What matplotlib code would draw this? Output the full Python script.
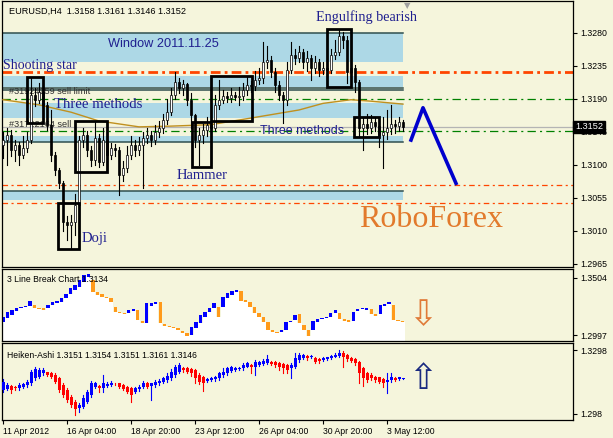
import matplotlib
matplotlib.use("Agg")
import matplotlib.pyplot as plt

plt.rcParams['lines.scale_dashes'] = False
plt.rcParams['font.family'] = ['Liberation Sans', 'DejaVu Sans']

BG = '#f5f5dc'
BAND = '#add8e6'
NAVY = '#1f1f8f'

# ---- main chart: EURUSD H4 candles (open = previous close) ----
first_open = 1.3127
closes = [1.3134, 1.3141, 1.3120, 1.3127, 1.3114, 1.3123, 1.3134, 1.3195, 1.3189, 1.3200,
          1.3182, 1.3155, 1.3114, 1.3093, 1.3075, 1.3022, 1.3018, 1.3022, 1.3045, 1.3134,
          1.3141, 1.3120, 1.3107, 1.3137, 1.3104, 1.3134, 1.3114, 1.3123, 1.3120, 1.3086,
          1.3096, 1.3114, 1.3127, 1.3120, 1.3127, 1.3137, 1.3141, 1.3134, 1.3145, 1.3150,
          1.3161, 1.3172, 1.3195, 1.3213, 1.3205, 1.3210, 1.3189, 1.3168, 1.3134, 1.3141,
          1.3148, 1.3155, 1.3150, 1.3182, 1.3189, 1.3194, 1.3191, 1.3195, 1.3193, 1.3194,
          1.3202, 1.3209, 1.3208, 1.3216, 1.3219, 1.3240, 1.3243, 1.3227, 1.3209, 1.3195,
          1.3189, 1.3230, 1.3250, 1.3246, 1.3254, 1.3240, 1.3246, 1.3232, 1.3240, 1.3230,
          1.3232, 1.3230, 1.3250, 1.3254, 1.3276, 1.3270, 1.3227, 1.3232, 1.3213, 1.3150,
          1.3156, 1.3150, 1.3159, 1.3153, 1.3141, 1.3145, 1.3150, 1.3156, 1.3153, 1.3159,
          1.3152]
highs = [1.3145, 1.3150, 1.3148, 1.3134, 1.3132, 1.3140, 1.3145, 1.3220, 1.3205, 1.3212,
         1.3206, 1.3186, 1.3175, 1.3118, 1.3096, 1.3078, 1.3030, 1.3032, 1.3060, 1.3140,
         1.3150, 1.3146, 1.3126, 1.3160, 1.3142, 1.3150, 1.3140, 1.3130, 1.3128, 1.3125,
         1.3105, 1.3126, 1.3140, 1.3134, 1.3138, 1.3145, 1.3150, 1.3146, 1.3155, 1.3160,
         1.3170, 1.3190, 1.3205, 1.3227, 1.3218, 1.3216, 1.3212, 1.3198, 1.3170, 1.3150,
         1.3156, 1.3165, 1.3162, 1.3195, 1.3216, 1.3202, 1.3200, 1.3205, 1.3200, 1.3206,
         1.3212, 1.3220, 1.3215, 1.3228, 1.3232, 1.3268, 1.3262, 1.3248, 1.3232, 1.3214,
         1.3200, 1.3240, 1.3268, 1.3258, 1.3262, 1.3258, 1.3256, 1.3250, 1.3248, 1.3244,
         1.3240, 1.3238, 1.3258, 1.3270, 1.3284, 1.3282, 1.3276, 1.3240, 1.3236, 1.3216,
         1.3164, 1.3170, 1.3168, 1.3166, 1.3160, 1.3165, 1.3175, 1.3182, 1.3162, 1.3166,
         1.3161]
lows = [1.3110, 1.3100, 1.3112, 1.3105, 1.3100, 1.3109, 1.3118, 1.3130, 1.3180, 1.3184,
        1.3168, 1.3148, 1.3105, 1.3086, 1.3068, 1.3010, 1.2998, 1.2987, 1.3005, 1.3040,
        1.3125, 1.3112, 1.3098, 1.3100, 1.3097, 1.3100, 1.3100, 1.3108, 1.3112, 1.3059,
        1.3078, 1.3090, 1.3108, 1.3112, 1.3114, 1.3069, 1.3130, 1.3126, 1.3128, 1.3138,
        1.3144, 1.3156, 1.3168, 1.3190, 1.3198, 1.3196, 1.3182, 1.3150, 1.3125, 1.3100,
        1.3130, 1.3140, 1.3142, 1.3146, 1.3176, 1.3184, 1.3186, 1.3186, 1.3188, 1.3182,
        1.3188, 1.3196, 1.3200, 1.3202, 1.3210, 1.3212, 1.3232, 1.3220, 1.3200, 1.3188,
        1.3157, 1.3182, 1.3225, 1.3238, 1.3240, 1.3232, 1.3228, 1.3216, 1.3225, 1.3222,
        1.3224, 1.3220, 1.3225, 1.3245, 1.3250, 1.3260, 1.3212, 1.3220, 1.3200, 1.3140,
        1.3120, 1.3142, 1.3144, 1.3146, 1.3125, 1.3096, 1.3135, 1.3142, 1.3144, 1.3146,
        1.3146]

# moving average, read at a few bars
ma_bars = [0, 9, 17, 24, 34, 42, 52, 62, 74, 80, 87, 92, 100]
ma_vals = [1.3189, 1.3182, 1.3172, 1.3160, 1.3152, 1.3153, 1.3155, 1.3164, 1.3175, 1.3184,
           1.3189, 1.3187, 1.3183]

# light blue zones (low, high) and dark level lines, drawn up to band_end
bands = [(1.3240, 1.3280), (1.3206, 1.3221), (1.3164, 1.3184), (1.3131, 1.3139), (1.3052, 1.3064)]
dark_levels = [1.3280, 1.3205, 1.3202, 1.3131, 1.3064]
band_end = 100

# full-width levels
red_level = 1.3227
green_levels = [1.3190, 1.3146]
orange_levels = [1.3073, 1.3048]
price_now = 1.3152

# pattern boxes: (bar from, bar to, price low, price high)
boxes = [(6.0, 10.0, 1.3157, 1.3220), (18.0, 26.0, 1.3090, 1.3160), (13.75, 19.0, 1.2985, 1.3048),
         (47.25, 52.0, 1.3097, 1.3159), (52.0, 62.25, 1.3160, 1.3221), (81.0, 87.0, 1.3206, 1.3285),
         (87.75, 94.0, 1.3138, 1.3165)]

# forecast zigzag
zig_bars = [102, 105, 113.25]
zig_vals = [1.3134, 1.3178, 1.3075]

main_ticks = [1.3280, 1.3235, 1.3190, 1.3145, 1.3100, 1.3055, 1.3010, 1.2965]

# ---- 3 Line Break bricks ----
lb_hi = [1.3160, 1.3199, 1.3219, 1.3240, 1.3249, 1.3258, 1.3299, 1.3264, 1.3240, 1.3234,
         1.3264, 1.3288, 1.3299, 1.3329, 1.3362, 1.3412, 1.3442, 1.3486, 1.3531, 1.3540,
         1.3486, 1.3382, 1.3359, 1.3338, 1.3323, 1.3249, 1.3199, 1.3196, 1.3219, 1.3228,
         1.3219, 1.3122, 1.3279, 1.3279, 1.3294, 1.3288, 1.3092, 1.3080, 1.3071, 1.3056,
         1.3036, 1.3012, 1.3071, 1.3110, 1.3175, 1.3205, 1.3240, 1.3279, 1.3249, 1.3338,
         1.3368, 1.3388, 1.3397, 1.3388, 1.3308, 1.3294, 1.3249, 1.3196, 1.3160, 1.3116,
         1.3042, 1.3027, 1.3042, 1.3110, 1.3122, 1.3175, 1.3181, 1.3086, 1.3042, 1.3122,
         1.3139, 1.3145, 1.3160, 1.3190, 1.3219, 1.3190, 1.3139, 1.3127, 1.3205, 1.3228,
         1.3234, 1.3234, 1.3225, 1.3181, 1.3264, 1.3270, 1.3288, 1.3264, 1.3130, 1.3122]
lb_lo = [1.3116, 1.3151, 1.3175, 1.3210, 1.3234, 1.3243, 1.3258, 1.3240, 1.3225, 1.3219,
         1.3234, 1.3264, 1.3279, 1.3294, 1.3323, 1.3362, 1.3397, 1.3427, 1.3471, 1.3516,
         1.3382, 1.3353, 1.3338, 1.3323, 1.3294, 1.3199, 1.3190, 1.3184, 1.3190, 1.3210,
         1.3130, 1.3101, 1.3101, 1.3258, 1.3270, 1.3101, 1.3080, 1.3071, 1.3056, 1.3042,
         1.3012, 1.2988, 1.2997, 1.3056, 1.3101, 1.3160, 1.3205, 1.3240, 1.3160, 1.3249,
         1.3323, 1.3353, 1.3382, 1.3299, 1.3294, 1.3249, 1.3196, 1.3160, 1.3116, 1.3042,
         1.3027, 1.3018, 1.3021, 1.3042, 1.3110, 1.3130, 1.3101, 1.3042, 1.2988, 1.3042,
         1.3116, 1.3139, 1.3145, 1.3160, 1.3190, 1.3139, 1.3122, 1.3116, 1.3122, 1.3213,
         1.3225, 1.3219, 1.3181, 1.3169, 1.3181, 1.3258, 1.3270, 1.3130, 1.3122, 1.3116]
lb_dir = ("BBBBBBBOOOBBBBBBBBBBOOOOOOOOBBOOBBBOOOOOOOBBBBBBOBBBBOOOOOOOOOBBBBOOOBBBBBBOOOBBBBOOBBBOOO")

# ---- Heiken-Ashi ----
ha_o = [1.3099, 1.3103, 1.3119, 1.3116, 1.3108, 1.3116, 1.3124, 1.3132, 1.3157, 1.3166,
        1.3182, 1.3187, 1.3182, 1.3174, 1.3157, 1.3124, 1.3099, 1.3066, 1.3041, 1.3008,
        1.3016, 1.3041, 1.3074, 1.3116, 1.3119, 1.3108, 1.3121, 1.3124, 1.3131, 1.3132,
        1.3124, 1.3116, 1.3108, 1.3091, 1.3103, 1.3116, 1.3132, 1.3121, 1.3124, 1.3132,
        1.3141, 1.3149, 1.3157, 1.3174, 1.3190, 1.3207, 1.3207, 1.3202, 1.3199, 1.3174,
        1.3166, 1.3146, 1.3149, 1.3152, 1.3157, 1.3174, 1.3182, 1.3195, 1.3199, 1.3202,
        1.3207, 1.3215, 1.3223, 1.3215, 1.3223, 1.3228, 1.3232, 1.3240, 1.3240, 1.3235,
        1.3228, 1.3223, 1.3207, 1.3215, 1.3248, 1.3257, 1.3268, 1.3262, 1.3257, 1.3252,
        1.3248, 1.3252, 1.3257, 1.3265, 1.3268, 1.3281, 1.3273, 1.3257, 1.3252, 1.3240,
        1.3207, 1.3182, 1.3174, 1.3166, 1.3162, 1.3152, 1.3141, 1.3149, 1.3157, 1.3152,
        1.3154]
ha_c = [1.3141, 1.3124, 1.3099, 1.3108, 1.3124, 1.3127, 1.3141, 1.3190, 1.3202, 1.3199,
        1.3199, 1.3174, 1.3166, 1.3141, 1.3099, 1.3074, 1.3050, 1.3025, 1.3003, 1.3025,
        1.3058, 1.3091, 1.3132, 1.3132, 1.3108, 1.3132, 1.3129, 1.3132, 1.3127, 1.3116,
        1.3103, 1.3091, 1.3074, 1.3108, 1.3116, 1.3136, 1.3116, 1.3132, 1.3141, 1.3146,
        1.3157, 1.3169, 1.3190, 1.3215, 1.3223, 1.3199, 1.3190, 1.3182, 1.3157, 1.3141,
        1.3132, 1.3152, 1.3157, 1.3162, 1.3182, 1.3190, 1.3207, 1.3212, 1.3207, 1.3207,
        1.3223, 1.3232, 1.3215, 1.3240, 1.3240, 1.3245, 1.3252, 1.3228, 1.3223, 1.3215,
        1.3207, 1.3199, 1.3223, 1.3257, 1.3273, 1.3273, 1.3257, 1.3268, 1.3240, 1.3245,
        1.3257, 1.3262, 1.3268, 1.3273, 1.3281, 1.3265, 1.3252, 1.3245, 1.3232, 1.3182,
        1.3157, 1.3149, 1.3157, 1.3149, 1.3141, 1.3136, 1.3149, 1.3166, 1.3149, 1.3162,
        1.3157]
ha_h = [1.3152, 1.3132, 1.3124, 1.3121, 1.3132, 1.3136, 1.3149, 1.3199, 1.3215, 1.3207,
        1.3207, 1.3190, 1.3187, 1.3182, 1.3166, 1.3132, 1.3108, 1.3074, 1.3050, 1.3033,
        1.3074, 1.3099, 1.3146, 1.3141, 1.3124, 1.3174, 1.3141, 1.3146, 1.3136, 1.3136,
        1.3129, 1.3121, 1.3116, 1.3116, 1.3124, 1.3146, 1.3141, 1.3136, 1.3149, 1.3152,
        1.3166, 1.3182, 1.3202, 1.3223, 1.3232, 1.3212, 1.3212, 1.3207, 1.3202, 1.3182,
        1.3169, 1.3157, 1.3162, 1.3169, 1.3190, 1.3207, 1.3215, 1.3218, 1.3212, 1.3215,
        1.3232, 1.3240, 1.3228, 1.3248, 1.3245, 1.3252, 1.3273, 1.3245, 1.3245, 1.3240,
        1.3232, 1.3228, 1.3232, 1.3281, 1.3281, 1.3278, 1.3273, 1.3273, 1.3262, 1.3257,
        1.3262, 1.3265, 1.3273, 1.3281, 1.3298, 1.3295, 1.3278, 1.3262, 1.3257, 1.3245,
        1.3215, 1.3187, 1.3182, 1.3169, 1.3166, 1.3157, 1.3182, 1.3182, 1.3162, 1.3166,
        1.3159]
ha_l = [1.3091, 1.3099, 1.3083, 1.3099, 1.3099, 1.3108, 1.3116, 1.3124, 1.3149, 1.3157,
        1.3174, 1.3169, 1.3157, 1.3132, 1.3091, 1.3066, 1.3041, 1.3016, 1.2975, 1.2991,
        1.3008, 1.3033, 1.3066, 1.3108, 1.3091, 1.3091, 1.3116, 1.3119, 1.3124, 1.3111,
        1.3099, 1.3083, 1.3041, 1.3083, 1.3096, 1.3108, 1.3108, 1.3050, 1.3116, 1.3124,
        1.3132, 1.3141, 1.3149, 1.3166, 1.3182, 1.3190, 1.3182, 1.3169, 1.3136, 1.3129,
        1.3096, 1.3141, 1.3146, 1.3146, 1.3149, 1.3166, 1.3174, 1.3190, 1.3195, 1.3199,
        1.3199, 1.3212, 1.3182, 1.3174, 1.3218, 1.3223, 1.3228, 1.3223, 1.3215, 1.3199,
        1.3182, 1.3182, 1.3157, 1.3207, 1.3240, 1.3252, 1.3248, 1.3257, 1.3232, 1.3235,
        1.3245, 1.3248, 1.3252, 1.3262, 1.3262, 1.3215, 1.3245, 1.3240, 1.3223, 1.3136,
        1.3119, 1.3141, 1.3149, 1.3141, 1.3132, 1.3116, 1.3083, 1.3141, 1.3146, 1.3149,
        1.3152]

date_bars = [0, 16, 32, 48, 64, 80, 96]
date_labels = ['11 Apr 2012', '16 Apr 04:00', '18 Apr 20:00', '23 Apr 12:00',
               '26 Apr 04:00', '30 Apr 20:00', '3 May 12:00']

fig = plt.figure(figsize=(6.13, 4.38), dpi=100, facecolor=BG)
L, W = 2 / 613, 571 / 613
ax = fig.add_axes([L, 1 - 267 / 438, W, 266 / 438], facecolor=BG)
ax_lb = fig.add_axes([L, 1 - 341 / 438, W, 72 / 438], facecolor=BG)
ax_ha = fig.add_axes([L, 1 - 420 / 438, W, 77 / 438], facecolor=BG)

for a in (ax, ax_lb, ax_ha):
    for s in a.spines.values():
        s.set_linewidth(0.9)
    a.yaxis.tick_right()
    a.tick_params(axis='y', length=3, width=0.8, pad=2, labelsize=6.3)
    a.tick_params(axis='x', length=0)
    a.set_xticks([])

# ---- main panel ----
x0 = -0.25
ax.set_xlim(x0, 142.5)
ax.set_ylim(1.29609, 1.33236)

for lo, hi in bands:
    ax.fill_between([x0, band_end], lo, hi, color=BAND, lw=0, zorder=1)
for lv in dark_levels:
    ax.plot([x0, band_end], [lv, lv], color='#2f4f4f', lw=1.1, zorder=1.5)

ax.axhline(red_level, color='#ff4500', lw=2.0, ls=(0, (7, 3, 2, 3)), zorder=2)
for lv in green_levels:
    ax.axhline(lv, color='#008000', lw=0.9, ls=(0, (6, 3, 1.5, 3)), zorder=2)
for lv in orange_levels:
    ax.axhline(lv, color='#ff4500', lw=0.9, ls=(0, (4, 2.5, 1.5, 2.5)), zorder=2)
ax.axhline(price_now, color='#b4b4b4', lw=0.9, zorder=2)

ax.text(1.5, 1.3200, '#31924159 sell limit', fontsize=6.6, color='#303030', va='center', zorder=2.5)
ax.text(1.5, 1.3155, '#31722164 sell', fontsize=6.6, color='#303030', va='center', zorder=2.5)

ax.plot(ma_bars, ma_vals, color='#c0901e', lw=1.0, zorder=3)

opens = [first_open] + closes[:-1]
for i, (o, c, h, l) in enumerate(zip(opens, closes, highs, lows)):
    ax.plot([i, i], [l, h], color='black', lw=0.8, zorder=4)
    up = c >= o
    ax.bar(i, max(abs(c - o), 0.00002), bottom=min(o, c), width=0.6,
           color='white' if up else 'black', edgecolor='black', lw=0.5, zorder=4.5)

for b0, b1, lo, hi in boxes:
    ax.add_patch(plt.Rectangle((b0, lo), b1 - b0, hi - lo, fill=False, ec='black', lw=2.0, zorder=5))

ax.plot(zig_bars, zig_vals, color='#0000cd', lw=2.6, zorder=5)

serif = ['Liberation Serif', 'DejaVu Serif']
ax.text(40, 1.3265, 'Window 2011.11.25', fontsize=9.2, color=NAVY, ha='center', va='center', zorder=6)
ax.text(0, 1.3236, 'Shooting star', family=serif, fontsize=10, color=NAVY, va='center', zorder=6)
ax.text(12.75, 1.3183, 'Three methods', family=serif, fontsize=10.6, color=NAVY, va='center', zorder=6)
ax.text(64.25, 1.3146, 'Three methods', fontsize=9.0, color=NAVY, va='center', zorder=6)
ax.text(43.5, 1.3086, 'Hammer', family=serif, fontsize=10.5, color=NAVY, va='center', zorder=6)
ax.text(19.75, 1.3000, 'Doji', family=serif, fontsize=10.5, color=NAVY, va='center', zorder=6)
ax.text(78.25, 1.3302, 'Engulfing bearish', family=serif, fontsize=10.2, color=NAVY, va='center', zorder=6)
ax.text(89, 1.3025, 'RoboForex', family=serif, fontsize=23, color='#e27a2c', va='center', zorder=6)
ax.text(101, 1.3324, '\u25bc', family=['DejaVu Sans'], fontsize=6, color='#a0a0a0', ha='center', va='top')
ax.text(0.012, 0.96, 'EURUSD,H4  1.3158 1.3161 1.3146 1.3152', transform=ax.transAxes,
        fontsize=6.6, color='black', va='center')

ax.set_yticks(main_ticks)
ax.set_yticklabels(['%.4f' % v for v in main_ticks])
ax.text(1.004, price_now, '%.4f' % price_now, transform=ax.get_yaxis_transform(), fontsize=6.6,
        color='white', va='center', ha='left', zorder=10, clip_on=False,
        bbox=dict(boxstyle='square,pad=0.2', fc='black', ec='black'))

# ---- 3 line break panel ----
ax_lb.set_xlim(-0.24, 570 / 4.49)
ax_lb.set_ylim(1.2944, 1.3584)
lb_bottom = 1.2944
for k, (hi, lo, d) in enumerate(zip(lb_hi, lb_lo, lb_dir)):
    ax_lb.bar(k, lo - lb_bottom, bottom=lb_bottom, width=1.0, color='white', lw=0, zorder=1)
    ax_lb.bar(k, hi - lo, bottom=lo, width=0.75, color='#0000ff' if d == 'B' else '#ff9a1a',
              lw=0, zorder=2)
ax_lb.set_yticks([1.3504, 1.2997])
ax_lb.set_yticklabels(['1.3504', '1.2997'])
ax_lb.text(0.008, 0.86, '3 Line Break Chart 1.3134', transform=ax_lb.transAxes, fontsize=6.2,
           va='center', zorder=5)
ax_lb.text(93.5, 1.3175, '\u21e9', family=['DejaVu Sans'], fontsize=25, color='#e07b39',
           ha='center', va='center', zorder=5)

# ---- heiken-ashi panel ----
ax_ha.set_xlim(-0.25, 142.5)
ax_ha.set_ylim(1.2950, 1.3333)
for j, (o, c, h, l) in enumerate(zip(ha_o, ha_c, ha_h, ha_l)):
    col = '#0000ff' if c >= o else '#ff0000'
    ax_ha.plot([j, j], [l, h], color=col, lw=0.8, zorder=2)
    ax_ha.bar(j, abs(c - o), bottom=min(o, c), width=0.75, color=col, lw=0, zorder=3)
ax_ha.set_yticks([1.3298, 1.2980])
ax_ha.set_yticklabels(['1.3298', '1.298'])
ax_ha.text(0.008, 0.84, 'Heiken-Ashi 1.3151 1.3154 1.3151 1.3161 1.3146', transform=ax_ha.transAxes,
           fontsize=6.2, va='center', zorder=5)
ax_ha.text(105, 1.3154, '\u21e7', family=['DejaVu Sans'], fontsize=25, color='#1a2a80',
           ha='center', va='center', zorder=5)
ax_ha.set_xticks(date_bars)
ax_ha.set_xticklabels(date_labels, ha='left', fontsize=6.2)
ax_ha.tick_params(axis='x', length=3, width=0.8, pad=2)

fig.savefig('out.png', dpi=100, facecolor=BG)
